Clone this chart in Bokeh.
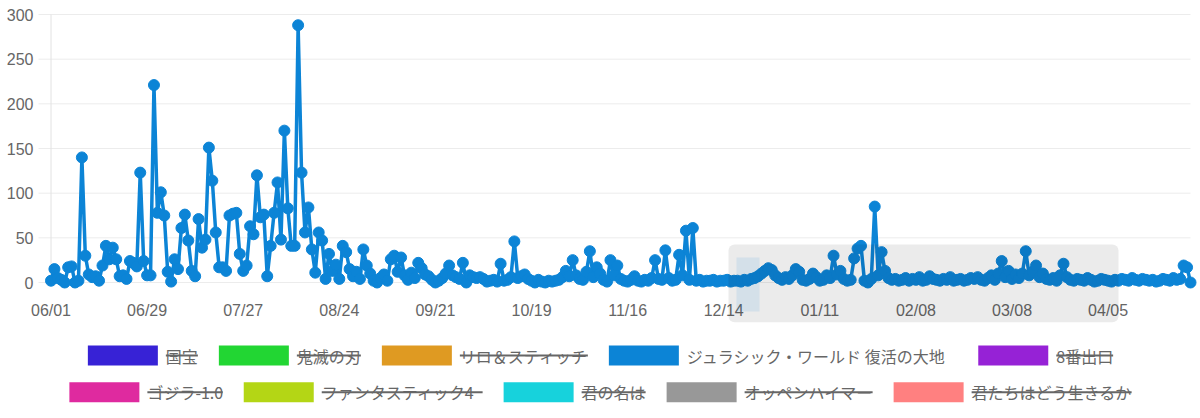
import pandas as pd
from bokeh.plotting import figure
from bokeh.layouts import column
from bokeh.models import Range1d, BoxAnnotation
from bokeh.core.properties import value
from bokeh.embed import file_html
from bokeh.resources import INLINE

# ---------------- data ----------------
start_date = "2025-06-01"

jurassic_values = [
    2, 15, 5, 3, 0, 17, 18, 0, 2, 140,
    30, 9, 6, 7, 2, 19, 41, 26, 39, 26,
    7, 8, 4, 24, 22, 18, 123, 24, 8, 8,
    221, 78, 101, 75, 12, 1, 26, 15, 61, 76,
    47, 13, 7, 71, 39, 48, 151, 114, 56, 17,
    17, 13, 75, 77, 78, 32, 13, 19, 63, 54,
    120, 73, 76, 7, 41, 78, 112, 48, 170, 83,
    41, 41, 288, 123, 56, 84, 37, 11, 56, 47,
    4, 32, 13, 20, 4, 41, 34, 15, 7, 12,
    4, 37, 19, 10, 2, 0, 5, 9, 2, 26,
    30, 12, 28, 8, 3, 11, 5, 22, 16, 9,
    7, 3, 0, 2, 5, 10, 19, 8, 6, 4,
    22, 0, 8, 6, 5, 6, 4, 1, 2, 3,
    1, 21, 2, 3, 6, 46, 5, 7, 9, 4,
    2, 0, 3, 1, 0, 2, 1, 2, 3, 6,
    13, 7, 25, 8, 4, 3, 12, 35, 6, 17,
    10, 3, 1, 25, 8, 19, 4, 2, 1, 3,
    7, 2, 1, 3, 2, 5, 25, 4, 3, 36,
    5, 2, 3, 31, 8, 58, 3, 61, 2, 3,
    1, 2, 2, 3, 1, 2, 2, 3, 1, 2,
    2, 1, 3, 2, 4, 5, 7, 10, 13, 16,
    14, 8, 5, 3, 6, 4, 8, 15, 12, 3,
    2, 4, 10, 6, 2, 3, 8, 5, 30, 9,
    13, 4, 2, 3, 27, 38, 41, 2, 0, 4,
    85, 8, 34, 13, 5, 3, 4, 2, 3, 5,
    2, 4, 3, 6, 2, 3, 7, 4, 3, 2,
    4, 3, 6, 2, 3, 4, 2, 3, 5, 4,
    6, 3, 2, 5, 8, 3, 10, 24, 6, 13,
    4, 9, 5, 10, 35, 8, 12, 19, 6, 10,
    4, 3, 5, 2, 8, 21, 6, 3, 2, 4,
    3, 2, 5, 3, 1, 2, 4, 3, 2, 1,
    3, 2, 4, 3, 2, 5, 3, 2, 4, 3,
    2, 3, 1, 2, 4, 3, 2, 5, 3, 4,
    19, 17, 0,
]

legend_labels = [
    "国宝", "鬼滅の刃", "リロ＆スティッチ", "ジュラシック・ワールド 復活の大地", "8番出口",
    "ゴジラ-1.0", "ファンタスティック4", "君の名は", "オッペンハイマー", "君たちはどう生きるか",
]
legend_colors = [
    "#3722d6", "#22d633", "#df9a22", "#0c84d6", "#9622d6",
    "#df2a9f", "#b4d615", "#17d2dc", "#989898", "#ff8080",
]
legend_hidden = [True, True, True, False, True, True, True, True, True, True]
legend_row_sizes = [5, 5]

y_ticks = [0, 50, 100, 150, 200, 250, 300]
y_tick_labels = ["0", "50", "100", "150", "200", "250", "300"]
x_tick_step_days = 28
x_tick_labels = ["06/01", "06/29", "07/27", "08/24", "09/21", "10/19",
                 "11/16", "12/14", "01/11", "02/08", "03/08", "04/05"]

LINE_COLOR = "#0c84d6"
TEXT_COLOR = "#666666"

# ---------------- geometry (page pixels) ----------------
W, H = 1200, 337
PAGE_X0, PAGE_Y0 = 0, 1
first_page_x, last_page_x = 50.5, 1190.0
top_page_y, zero_page_y = 15.0, 283.0

dates = pd.date_range(start_date, periods=len(jurassic_values), freq="D")
tick_dates = list(dates[::x_tick_step_days])[:len(x_tick_labels)]

ppd = (last_page_x - first_page_x) / (len(dates) - 1)
ppu = (zero_page_y - top_page_y) / y_ticks[-1]


def px_to_x(page_x):
    return dates[0] + pd.Timedelta(days=(page_x - first_page_x) / ppd)


def px_to_y(page_y):
    return (zero_page_y - page_y) / ppu


p = figure(width=W, height=H, x_axis_location=None, y_axis_location=None,
           x_range=Range1d(px_to_x(PAGE_X0), px_to_x(PAGE_X0 + W)),
           y_range=Range1d(px_to_y(PAGE_Y0 + H), px_to_y(PAGE_Y0)),
           toolbar_location=None, output_backend="svg", min_border=0,
           min_border_left=0, min_border_right=0, min_border_top=0, min_border_bottom=0)
p.outline_line_color = None
p.background_fill_color = "white"
p.border_fill_color = "white"
p.grid.grid_line_color = None
p.grid.visible = False

# horizontal grid lines
grid_x0 = px_to_x(38)
p.segment(x0=[grid_x0] * len(y_ticks), y0=y_ticks,
          x1=[dates[-1]] * len(y_ticks), y1=y_ticks,
          line_color="#ececec", line_width=1)
# left border line of the chart area at the first date
p.segment(x0=[dates[0]], y0=[y_ticks[0]], x1=[dates[0]], y1=[y_ticks[-1]],
          line_color="#e2e2e2", line_width=1)

# y tick labels
p.text(x=[px_to_x(33)] * len(y_ticks), y=y_ticks, text=y_tick_labels,
       text_font=value("Liberation Sans"), text_font_size="16px",
       text_color=TEXT_COLOR, text_align="right", text_baseline="middle")

# x tick labels
p.text(x=tick_dates, y=[px_to_y(311)] * len(tick_dates), text=x_tick_labels,
       text_font=value("Liberation Sans"), text_font_size="16px",
       text_color=TEXT_COLOR, text_align="center", text_baseline="middle")

# series
p.line(dates, jurassic_values, line_color=LINE_COLOR, line_width=3.5, line_join="round")
p.scatter(dates, jurassic_values, size=11, fill_color=LINE_COLOR, line_color=LINE_COLOR)

# fading tooltip box
tip = BoxAnnotation(left=px_to_x(728), right=px_to_x(1118),
                    top=px_to_y(245), bottom=px_to_y(322.7),
                    fill_color="black", fill_alpha=0.08, line_color=None,
                    border_radius=6, level="overlay")
tip_swatch = BoxAnnotation(left=px_to_x(736), right=px_to_x(759),
                           top=px_to_y(258), bottom=px_to_y(312),
                           fill_color=LINE_COLOR, fill_alpha=0.1, line_color=None,
                           level="overlay")
p.add_layout(tip)
p.add_layout(tip_swatch)

# ---------------- legend ----------------
LH = 72
leg = figure(width=W, height=LH, x_range=Range1d(0, W), y_range=Range1d(LH, 0),
             x_axis_type=None, y_axis_type=None, toolbar_location=None,
             output_backend="svg", min_border=0, min_border_left=0, min_border_right=0,
             min_border_top=0, min_border_bottom=0)
leg.outline_line_color = None
leg.background_fill_color = "white"
leg.border_fill_color = "white"

FS = 16
BOX_W, BOX_H, GAP_T, GAP_I = 70, 20, 8, 21
row_y = [18, 54.7]
center_x = 600 - PAGE_X0


def text_width(s):
    w = 0.0
    prev_wide = False
    for ch in s:
        wide = False
        if ch == " ":
            w += 0.9 * FS
        elif ch.isdigit():
            w += 0.555 * FS + (0.5 * FS if prev_wide else 0)
        elif ch == "-":
            w += 0.35 * FS
        elif ch == ".":
            w += 0.25 * FS
        elif ord(ch) > 0x2000:
            w += FS
            wide = True
        else:
            w += 0.55 * FS
        prev_wide = wide
    return w


box_x, box_y, txt_x, txt_y = [], [], [], []
s_x0, s_x1, s_y = [], [], []
idx = 0
for r, n in enumerate(legend_row_sizes):
    items = list(range(idx, idx + n))
    widths = [BOX_W + GAP_T + text_width(legend_labels[i]) for i in items]
    total = sum(widths) + GAP_I * (n - 1)
    x = center_x - total / 2
    for i, w in zip(items, widths):
        box_x.append(x + BOX_W / 2)
        box_y.append(row_y[r])
        tx = x + BOX_W + GAP_T
        txt_x.append(tx)
        txt_y.append(row_y[r])
        if legend_hidden[i]:
            s_x0.append(tx)
            s_x1.append(tx + text_width(legend_labels[i]))
            s_y.append(row_y[r])
        x += w + GAP_I
    idx += n

leg.rect(x=box_x, y=box_y, width=BOX_W, height=BOX_H,
         fill_color=legend_colors, line_color=None)
leg.text(x=txt_x, y=txt_y, text=legend_labels,
         text_font=value("Noto Sans CJK JP"), text_font_size=f"{FS}px",
         text_color=TEXT_COLOR, text_baseline="middle", text_align="left")
leg.segment(x0=s_x0, y0=s_y, x1=s_x1, y1=s_y, line_color=TEXT_COLOR, line_width=2)

layout = column(p, leg, spacing=0)
open("out.html", "w").write(file_html(layout, INLINE))
